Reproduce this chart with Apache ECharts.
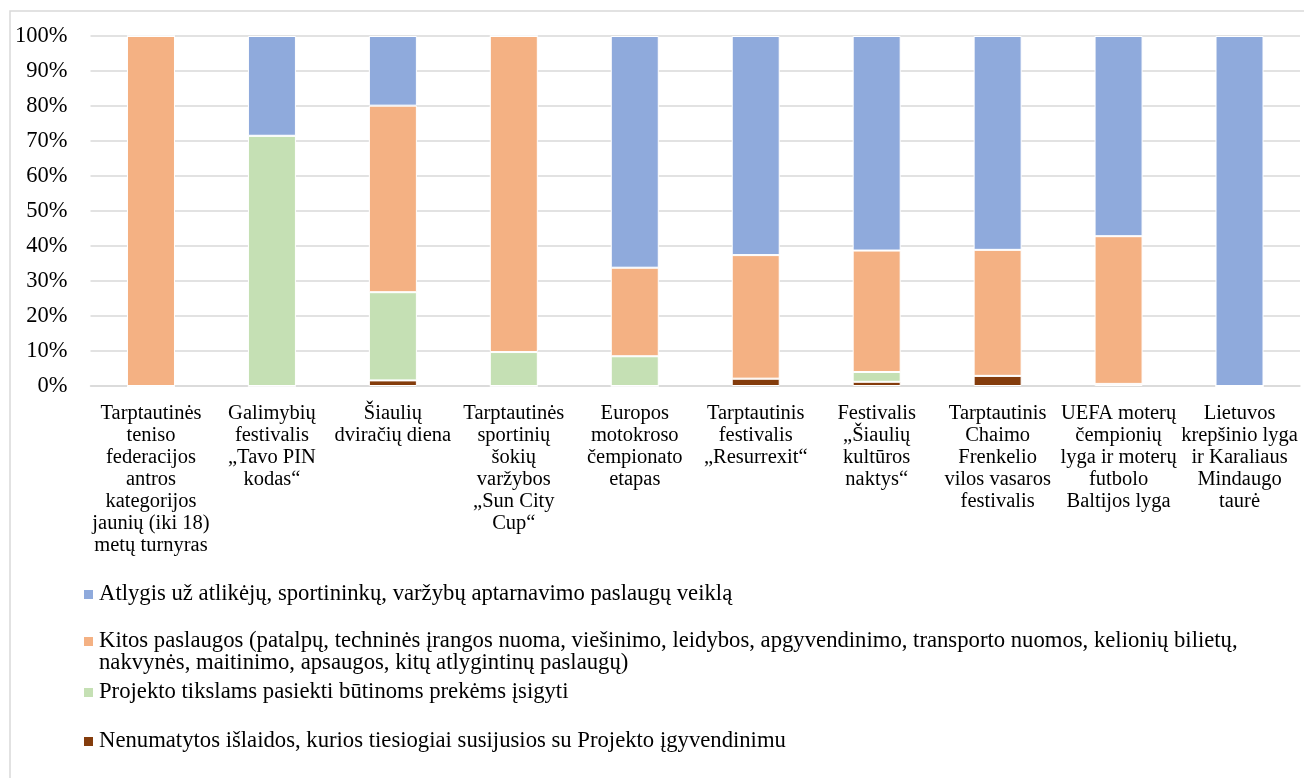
<!DOCTYPE html>
<html>
<head>
<meta charset="utf-8">
<script src="https://cdn.jsdelivr.net/npm/echarts@6/dist/echarts.min.js"></script>
<style>
html,body{margin:0;padding:0;background:#fff;}
#chart{width:1304px;height:778px;}
</style>
</head>
<body>
<div id="chart"></div>
<script>
const categories = [
  "Tarptautinės\nteniso\nfederacijos\nantros\nkategorijos\njaunių (iki 18)\nmetų turnyras",
  "Galimybių\nfestivalis\n„Tavo PIN\nkodas“",
  "Šiaulių\ndviračių diena",
  "Tarptautinės\nsportinių\nšokių\nvaržybos\n„Sun City\nCup“",
  "Europos\nmotokroso\nčempionato\netapas",
  "Tarptautinis\nfestivalis\n„Resurrexit“",
  "Festivalis\n„Šiaulių\nkultūros\nnaktys“",
  "Tarptautinis\nChaimo\nFrenkelio\nvilos vasaros\nfestivalis",
  "UEFA moterų\nčempionių\nlyga ir moterų\nfutbolo\nBaltijos lyga",
  "Lietuvos\nkrepšinio lyga\nir Karaliaus\nMindaugo\ntaurė"
];
const seriesNames = [
  "Atlygis už atlikėjų, sportininkų, varžybų aptarnavimo paslaugų veiklą",
  "Kitos paslaugos (patalpų, techninės įrangos nuoma, viešinimo, leidybos, apgyvendinimo, transporto nuomos, kelionių bilietų,\nnakvynės, maitinimo, apsaugos, kitų atlygintinų paslaugų)",
  "Projekto tikslams pasiekti būtinoms prekėms įsigyti",
  "Nenumatytos išlaidos, kurios tiesiogiai susijusios su Projekto įgyvendinimu"
];
const atlygis  = [0, 28.5, 19.9, 0, 66.2, 62.6, 61.3, 61.1, 57.2, 100];
const kitos    = [100, 0, 53.3, 90.3, 25.3, 35.3, 34.7, 36.0, 42.2, 0];
const prekes   = [0, 71.5, 25.2, 9.7, 8.5, 0, 2.8, 0, 0, 0];
const nenumatytos = [0, 0, 1.6, 0, 0, 2.1, 1.2, 2.9, 0.6, 0];
const yTicks = [0, 10, 20, 30, 40, 50, 60, 70, 80, 90, 100];

const colors = ['#8FAADC', '#F4B183', '#C5E0B4', '#843C0C'];
const FONT = 'Liberation Serif';

const chart = echarts.init(document.getElementById('chart'));

function mkSeries(name, data, color) {
  return {
    name: name, type: 'bar', stack: 'total', data: data, barWidth: 48,
    itemStyle: { color: color, borderColor: '#fff', borderWidth: 1 },
    emphasis: { disabled: true }
  };
}
function mkLegend(name, top, extra) {
  return Object.assign({
    data: [name], orient: 'vertical', left: 82, top: top, padding: 0,
    itemWidth: 11, itemHeight: 11, itemGap: 0, icon: 'rect',
    selectedMode: false,
    textStyle: { fontFamily: FONT, fontSize: 22.7, color: '#000', lineHeight: 22 }
  }, extra || {});
}

chart.setOption({
  animation: false,
  graphic: [{
    type: 'rect', shape: { x: 10, y: 11, width: 1320, height: 800 },
    style: { fill: 'none', stroke: '#D9D9D9', lineWidth: 1.5 }, z: -10, silent: true
  }],
  grid: { left: 90.5, right: 4, top: 36, bottom: 392, containLabel: false },
  xAxis: {
    type: 'category', data: categories,
    axisTick: { show: false },
    axisLine: { lineStyle: { color: '#D9D9D9', width: 1.5 } },
    axisLabel: { interval: 0, fontFamily: FONT, fontSize: 20.5, color: '#000', lineHeight: 22, margin: 17 }
  },
  yAxis: {
    type: 'value', min: 0, max: 100, interval: 10,
    axisLine: { show: false }, axisTick: { show: false },
    splitLine: { lineStyle: { color: '#D9D9D9', width: 1.5 } },
    axisLabel: { formatter: '{value}%', fontFamily: FONT, fontSize: 22.5, color: '#000', margin: 23 }
  },
  legend: [
    mkLegend(seriesNames[0], 583),
    mkLegend(seriesNames[1], 608, { formatter: function (n) { return '\n' + n; } }),
    mkLegend(seriesNames[2], 681),
    mkLegend(seriesNames[3], 730)
  ],
  series: [
    mkSeries(seriesNames[3], nenumatytos, colors[3]),
    mkSeries(seriesNames[2], prekes, colors[2]),
    mkSeries(seriesNames[1], kitos, colors[1]),
    mkSeries(seriesNames[0], atlygis, colors[0])
  ]
});
</script>
</body>
</html>
